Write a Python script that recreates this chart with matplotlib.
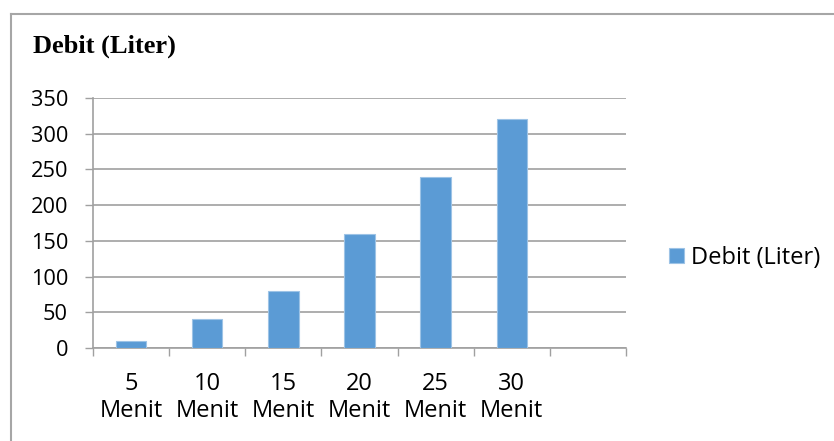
import matplotlib
matplotlib.use("Agg")
import matplotlib.pyplot as plt
from matplotlib.lines import Line2D
import numpy as np

categories = ["5\nMenit", "10\nMenit", "15\nMenit", "20\nMenit", "25\nMenit", "30\nMenit", ""]
debit = [10, 40, 80, 160, 240, 320, None]
y_ticks = [0, 50, 100, 150, 200, 250, 300, 350]
series_name = "Debit (Liter)"
title = "Debit (Liter)"

bar_color = "#5B9BD5"
grid_color = "#A0A0A0"
label_font = "Open Sans"

fig = plt.figure(figsize=(8.34, 4.41), dpi=100)
ax = fig.add_axes([93 / 834, 1 - 348 / 441, (626 - 93) / 834, (348 - 98) / 441])

x = np.arange(len(categories))
vals = [v for v in debit if v is not None]
ax.bar(x[:len(vals)], vals, width=0.4, color=bar_color, edgecolor="#9DC3E6",
       linewidth=0.8, zorder=3, label=series_name)

ax.set_xlim(-0.5, len(categories) - 0.5)
ax.set_ylim(0, 350)
ax.set_yticks(y_ticks)
ax.set_yticklabels([str(t) for t in y_ticks], fontfamily=label_font, fontsize=15.7)
ax.yaxis.grid(True, color=grid_color, linewidth=1.2, zorder=0)

ax.set_xticks(x)
ax.set_xticklabels(categories, fontfamily=label_font, fontsize=17, linespacing=1.17)
ax.set_xticks(np.arange(len(categories) + 1) - 0.5, minor=True)
ax.tick_params(axis="x", which="major", length=0, pad=17)
ax.tick_params(axis="x", which="minor", length=6, width=1, color=grid_color, direction="out")
ax.tick_params(axis="y", length=6, width=1, color=grid_color, pad=12)

for side in ("top", "right"):
    ax.spines[side].set_visible(False)
for side in ("left", "bottom"):
    ax.spines[side].set_color(grid_color)
    ax.spines[side].set_linewidth(1.2)

leg = ax.legend(loc="center left", bbox_to_anchor=(660 / 834, 1 - 258 / 441),
                bbox_transform=fig.transFigure, frameon=False,
                prop={"family": label_font, "size": 17},
                handlelength=0.6, handleheight=0.6, handletextpad=0.3, borderaxespad=0)

fig.text(33 / 834, 1 - 46 / 441, title, fontfamily="Liberation Serif",
         fontweight="bold", fontsize=19, va="center", ha="left")

# chart frame (left and top edges)
fig.add_artist(Line2D([11 / 834, 11 / 834], [0, 1 - 14 / 441], transform=fig.transFigure,
                      color="#A6A6A6", linewidth=1.5))
fig.add_artist(Line2D([11 / 834, 1], [1 - 14 / 441, 1 - 14 / 441], transform=fig.transFigure,
                      color="#A6A6A6", linewidth=1.5))

fig.savefig("out.png", dpi=100)
